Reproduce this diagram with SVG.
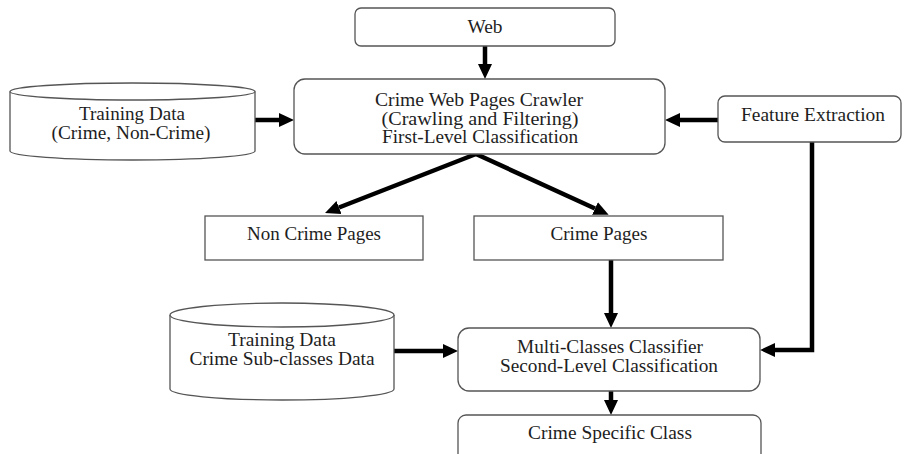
<svg xmlns="http://www.w3.org/2000/svg" width="904" height="454" viewBox="0 0 904 454">
<defs>
<style>
.box{fill:#fff;stroke:#555;stroke-width:1.3}
.t{font-family:"Liberation Serif","Times New Roman",serif;font-size:18px;fill:#1e1e1e;text-anchor:middle}
.c{fill:none;stroke:#000;stroke-width:4.5}
</style>
<marker id="ah" markerUnits="userSpaceOnUse" markerWidth="16" markerHeight="16" refX="0" refY="7" orient="auto" viewBox="0 0 16 14">
<path d="M0,0 L15,7 L0,14 z" fill="#000"/>
</marker>
</defs>
<rect width="904" height="454" fill="#fff"/>
<g id="connectors">
<line class="c" x1="485" y1="46" x2="485" y2="64" marker-end="url(#ah)"/>
<line class="c" x1="255" y1="120" x2="279" y2="120" marker-end="url(#ah)"/>
<line class="c" x1="718" y1="120" x2="680" y2="120" marker-end="url(#ah)"/>
<line class="c" x1="476" y1="154" x2="339" y2="207.5" marker-end="url(#ah)"/>
<line class="c" x1="476" y1="154" x2="595" y2="208.5" marker-end="url(#ah)"/>
<line class="c" x1="611" y1="260" x2="611" y2="313" marker-end="url(#ah)"/>
<line class="c" x1="611" y1="391" x2="611" y2="400" marker-end="url(#ah)"/>
<line class="c" x1="394" y1="351" x2="443" y2="351" marker-end="url(#ah)"/>
<polyline class="c" points="812,142 812,350 775,350" marker-end="url(#ah)"/>
</g>
<g id="web">
<rect class="box" x="355" y="8" width="260" height="38" rx="6"/>
<text class="t" x="485" y="33" textLength="35" lengthAdjust="spacingAndGlyphs">Web</text>
</g>
<g id="crawler">
<rect class="box" x="294" y="79" width="371" height="75" rx="11"/>
<text class="t" x="479" y="106" textLength="208" lengthAdjust="spacingAndGlyphs">Crime Web Pages Crawler</text>
<text class="t" x="480" y="125" textLength="197" lengthAdjust="spacingAndGlyphs">(Crawling and Filtering)</text>
<text class="t" x="480" y="143" textLength="196" lengthAdjust="spacingAndGlyphs">First-Level Classification</text>
</g>
<g id="training1">
<path class="box" d="M10,91.5 L10,151 A122.5,9 0 0 0 255,151 L255,91.5"/>
<ellipse class="box" cx="132.5" cy="91.5" rx="122.5" ry="8.5"/>
<text class="t" x="132" y="120" textLength="106" lengthAdjust="spacingAndGlyphs">Training Data</text>
<text class="t" x="131" y="139" textLength="159" lengthAdjust="spacingAndGlyphs">(Crime, Non-Crime)</text>
</g>
<g id="feature">
<rect class="box" x="718" y="96" width="183" height="46" rx="7"/>
<text class="t" x="813" y="121" textLength="144" lengthAdjust="spacingAndGlyphs">Feature Extraction</text>
</g>
<g id="noncrime">
<rect class="box" x="205" y="216" width="218" height="44"/>
<text class="t" x="314" y="240" textLength="134" lengthAdjust="spacingAndGlyphs">Non Crime Pages</text>
</g>
<g id="crime">
<rect class="box" x="474" y="216" width="249" height="44"/>
<text class="t" x="599" y="240" textLength="97" lengthAdjust="spacingAndGlyphs">Crime Pages</text>
</g>
<g id="training2">
<path class="box" d="M170,315 L170,389 A112,11 0 0 0 394,389 L394,315"/>
<ellipse class="box" cx="282" cy="315" rx="112" ry="12"/>
<text class="t" x="282" y="346" textLength="108" lengthAdjust="spacingAndGlyphs">Training Data</text>
<text class="t" x="282" y="365" textLength="185" lengthAdjust="spacingAndGlyphs">Crime Sub-classes Data</text>
</g>
<g id="multi">
<rect class="box" x="458" y="328" width="302" height="63" rx="11"/>
<text class="t" x="610" y="353" textLength="186" lengthAdjust="spacingAndGlyphs">Multi-Classes Classifier</text>
<text class="t" x="609" y="372" textLength="218" lengthAdjust="spacingAndGlyphs">Second-Level Classification</text>
</g>
<g id="specific">
<rect class="box" x="458" y="415" width="303" height="60" rx="8"/>
<text class="t" x="610" y="439" textLength="164" lengthAdjust="spacingAndGlyphs">Crime Specific Class</text>
</g>
</svg>
